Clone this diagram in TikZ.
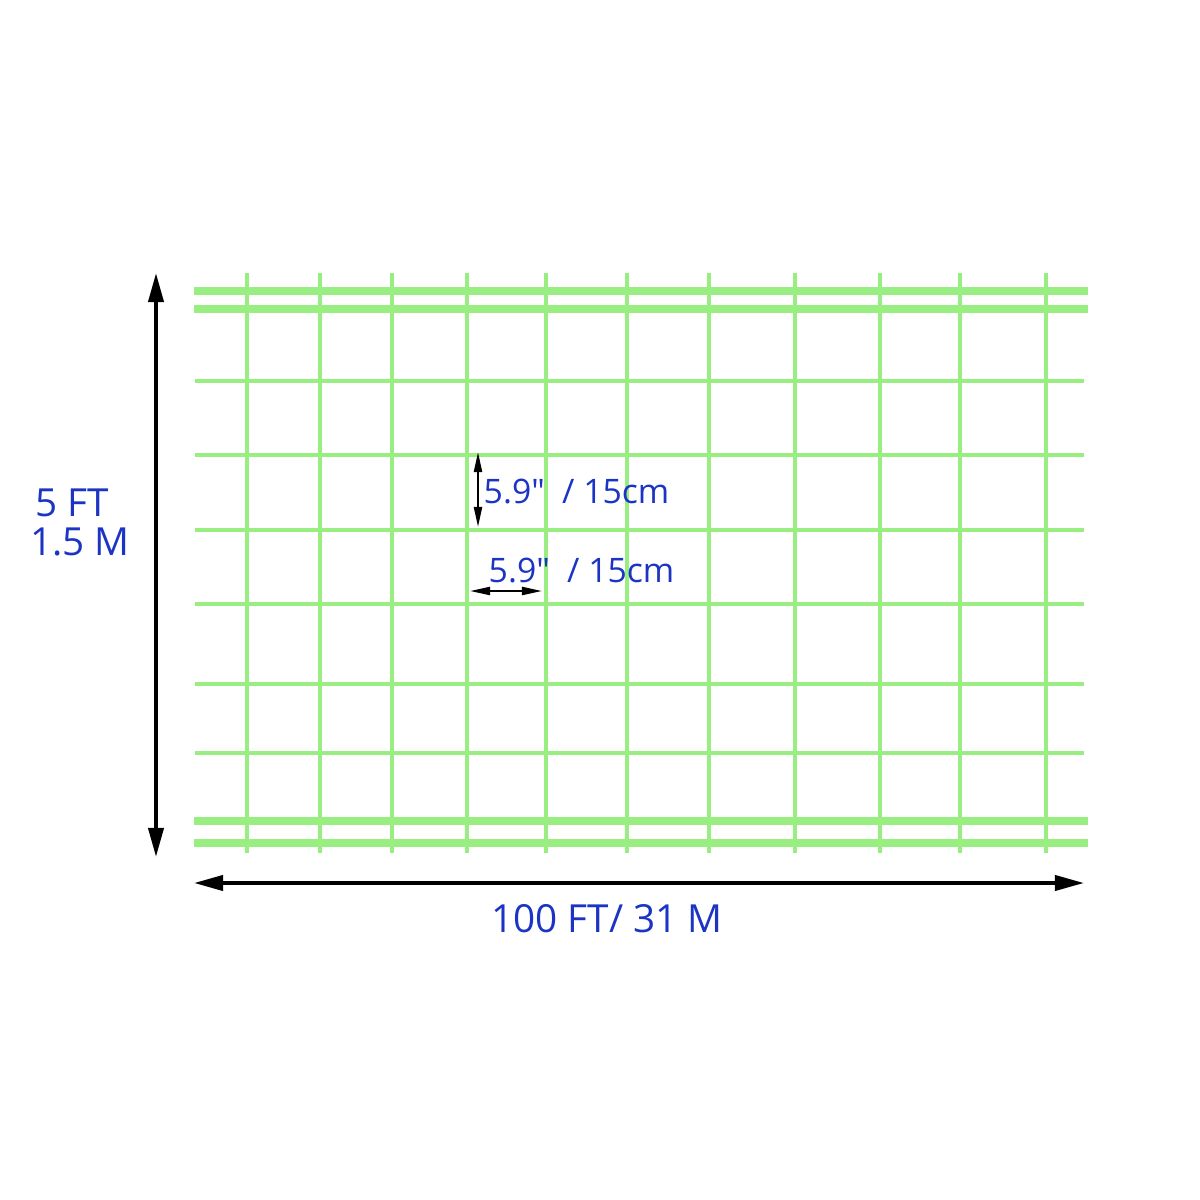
\documentclass[tikz,border=0pt]{standalone}
\usepackage{fontspec}
\setmainfont{Open Sans}
\usetikzlibrary{arrows.meta}
\definecolor{meshgreen}{RGB}{152,238,128}
\definecolor{dimblue}{RGB}{28,52,196}

\begin{document}
\begin{tikzpicture}[x=0.01cm,y=-0.01cm,
    wire/.style={meshgreen,line width=1.1pt},
    edgewire/.style={meshgreen,line width=2pt},
    dimline/.style={line width=1.1pt,{Triangle[length=0.29cm,width=0.15cm]}-{Triangle[length=0.29cm,width=0.15cm]}},
    gapline/.style={line width=0.6pt,{Triangle[length=0.2cm,width=0.08cm]}-{Triangle[length=0.2cm,width=0.08cm]}},
    dimtext/.style={text=dimblue,font=\fontsize{11}{13}\selectfont,inner sep=0pt,anchor=base},
    gaptext/.style={text=dimblue,font=\fontsize{9.6}{11}\selectfont,inner sep=0pt,anchor=base west}]
    \useasboundingbox (0,0) rectangle (1200,1200);

    \foreach \x in {247,320,392,467,546,627,709,795,880,960,1046}{% stays
        \draw[wire] (\x,273) -- (\x,853);
    }
    \foreach \y in {381,455,530,604,684,753}{% line wires
        \draw[wire,line width=1.4pt] (195,\y) -- (1084,\y);
    }
    \foreach \y in {291,309,821,843}{% edge wires
        \draw[edgewire] (194,\y) -- (1088,\y);
    }

    % roll size
    \coordinate (rollT) at (156,273);
    \coordinate (rollB) at (156,857);
    \coordinate (rollL) at (194,883);
    \coordinate (rollR) at (1084,883);
    \draw[dimline] (rollT) -- (rollB);
    \draw[dimline] (rollL) -- (rollR);
    \node[dimtext] (hft) at (72,516) {5 FT};
    \node[dimtext] (hm) at (80,555) {1.5 M};
    \node[dimtext] (len) at (607,932) {100 FT/ 31 M};

    % mesh opening
    \coordinate (gapT) at (478,452);
    \coordinate (gapB) at (478,527);
    \coordinate (gapL) at (470,591);
    \coordinate (gapR) at (542,591);
    \draw[gapline] (gapT) -- (gapB);
    \draw[gapline] (gapL) -- (gapR);
    \node[gaptext] (gapv) at (483,503) {5.9″\ \ / 15cm};
    \node[gaptext] (gaph) at (488,582) {5.9″\ \ / 15cm};
\end{tikzpicture}
\end{document}
